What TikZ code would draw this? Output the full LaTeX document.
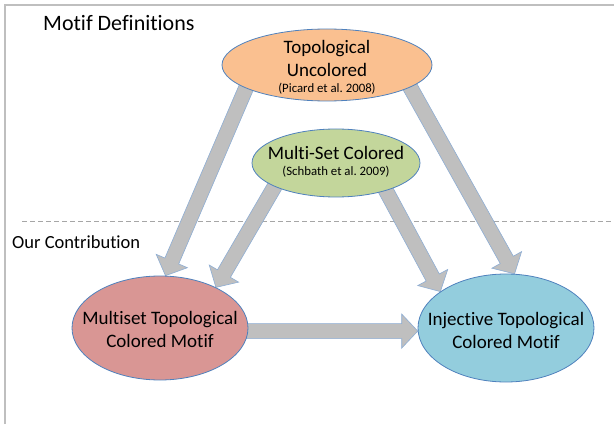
\documentclass[tikz,border=0pt]{standalone}
\usepackage{fontspec}
\setmainfont{Carlito}[Ligatures=NoCommon]
\usepackage{tikz}
\usetikzlibrary{positioning, shapes.geometric, calc, backgrounds}
\frenchspacing

\definecolor{motiforange}{HTML}{FAC090}
\definecolor{motifgreen}{HTML}{C3D69B}
\definecolor{motifred}{HTML}{D99694}
\definecolor{motifblue}{HTML}{93CDDD}
\definecolor{rimblue}{HTML}{4F81BD}
\definecolor{arrowgray}{HTML}{BFBFBF}
\definecolor{framegray}{HTML}{BFBFBF}

% fat grey arrow from #1 to #2 (tail tucked under the ellipse)
\newcommand{\blockarrow}[2]{%
  \draw[bigarrow] let \p1=($(#1)!-6pt!(#2)$), \p2=(#2), \n1={atan2(\y2-\y1,\x2-\x1)} in
    ($(\p1)+({\n1+90}:7.5pt)$) -- ($(\p2)+({\n1+180}:16pt)+({\n1+90}:7.5pt)$)
    -- ($(\p2)+({\n1+180}:16pt)+({\n1+90}:17pt)$) -- (\p2)
    -- ($(\p2)+({\n1+180}:16pt)+({\n1-90}:17pt)$)
    -- ($(\p2)+({\n1+180}:16pt)+({\n1-90}:7.5pt)$)
    -- ($(\p1)+({\n1-90}:7.5pt)$) -- cycle;}

\begin{document}
\begin{tikzpicture}[
  x=1pt, y=1pt,
  blob/.style={ellipse, draw=rimblue, line width=0.8pt, inner sep=0pt},
  lbl/.style={font=\fontsize{19}{23}\selectfont, align=center, inner sep=0pt},
  cite/.style={font=\fontsize{12.8}{15}\selectfont, inner sep=0pt},
  heading/.style={anchor=west, inner sep=0pt},
  bigarrow/.style={fill=arrowgray, draw=rimblue!65, line width=0.6pt, line join=miter},
  sep/.style={draw=black!35, line width=1pt, dash pattern=on 5pt off 3pt},
  frame/.style={draw=framegray, line width=1.2pt}
]
\useasboundingbox (0,0) rectangle (614,424);

% Frame
\draw[frame] (5,0) -- (5,419) -- (614,419);

% Headings
\node[heading, font=\fontsize{22}{26}\selectfont] (defs) at (43,401) {Motif Definitions};
\node[heading, font=\fontsize{18.5}{22}\selectfont] (ours) at (12,182) {Our Contribution};

% Known definitions
\node[blob, fill=motiforange, minimum width=210, minimum height=72] (uncol) at (327,359) {};
\node[lbl] (uncoltext) at ([yshift=6.5]uncol.center) {Topological\\Uncolored};
\node[cite] (uncolcite) at ([yshift=-24]uncol.center) {(Picard et al. 2008)};

\node[blob, fill=motifgreen, minimum width=168, minimum height=68] (mscol) at (336,261) {};
\node[lbl] (mscoltext) at ([yshift=10]mscol.center) {Multi-Set Colored};
\node[cite] (mscolcite) at ([yshift=-9]mscol.center) {(Schbath et al. 2009)};

% New definitions
\node[blob, fill=motifred, minimum width=176, minimum height=104] (multi) at (160,96) {};
\node[lbl] (multitext) at ([yshift=-1]multi.center) {Multiset Topological\\Colored Motif};

\node[blob, fill=motifblue, minimum width=176, minimum height=108] (injec) at (506,96) {};
\node[lbl] (injectext) at ([yshift=-2]injec.center) {Injective Topological\\Colored Motif};

% Separator and arrows behind the ellipses
\begin{scope}[on background layer]
\draw[sep] (22,203) -- (614,203);
\blockarrow{uncol.196}{multi.84}
\blockarrow{uncol.-15}{injec.81}
\blockarrow{mscol.201}{multi.36}
\blockarrow{mscol.-29}{injec.151}
\blockarrow{multi.-2}{injec.182}
\end{scope}

\end{tikzpicture}
\end{document}
